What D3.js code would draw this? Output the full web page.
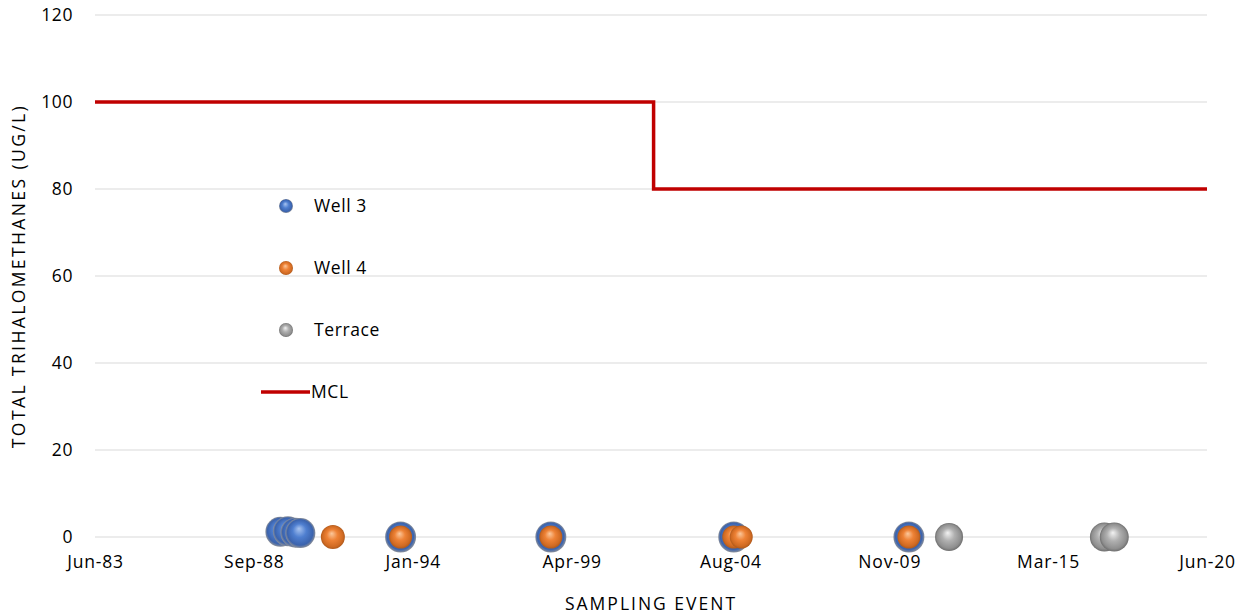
<!DOCTYPE html>
<html>
<head>
<meta charset="utf-8">
<script src="https://cdn.jsdelivr.net/npm/d3@7"></script>
<style>
html,body{margin:0;padding:0;background:#fff;}
svg{display:block;font-family:"Open Sans",sans-serif;}
</style>
</head>
<body>
<svg id="chart" width="1247" height="615"></svg>
<script>
// ---- data ----
const yTicks = [0, 20, 40, 60, 80, 100, 120];
const xTickLabels = ["Jun-83", "Sep-88", "Jan-94", "Apr-99", "Aug-04", "Nov-09", "Mar-15", "Jun-20"];

const well3Dates = ["1989-08-01", "1989-11-01", "1990-02-01", "1990-04-01", "1993-08-01", "1998-08-01", "2004-09-01", "2010-07-01"];
const well3Values = [1.2, 1.3, 1.0, 0.9, 0, 0, 0, 0];
const well3Sizes = [15, 15, 15, 15, 15.5, 15.5, 15.5, 15.5];

const well4Dates = ["1991-05-01", "1993-08-01", "1998-08-01", "2004-09-01", "2004-12-01", "2010-07-01"];
const well4Values = [0, 0, 0, 0, 0, 0];
const well4Sizes = [12, 11.5, 11.5, 11.5, 11.5, 11.5];

const terraceDates = ["2011-11-01", "2017-01-01", "2017-05-01"];
const terraceValues = [0, 0, 0];
const terraceSizes = [14, 14.5, 14.5];

const mclDates = ["1983-06-01", "2002-01-01", "2002-01-01", "2020-06-01"];
const mclValues = [100, 100, 80, 80];

// ---- layout ----
const svg = d3.select("#chart");
const pLeft = 95, pRight = 1207, pTop = 15, pBottom = 537;
const FONT = "'Open Sans', sans-serif";
const FS = 17.5;
const parse = d3.timeParse("%Y-%m-%d");
const x0 = parse("1983-06-01"), x1 = parse("2020-06-01");
const x = d3.scaleTime().domain([x0, x1]).range([pLeft, pRight]);
const y = d3.scaleLinear().domain([0, 120]).range([pBottom, pTop]);

const tickDates = xTickLabels.map((d, i) => new Date(+x0 + (x1 - x0) * i / (xTickLabels.length - 1)));

// gradients
const defs = svg.append("defs");
function grad(id, hi, mid, edge, rim) {
  const g = defs.append("radialGradient").attr("id", id)
    .attr("cx", "50%").attr("cy", "50%").attr("r", "50%")
    .attr("fx", "45%").attr("fy", "35%");
  g.append("stop").attr("offset", "0%").attr("stop-color", hi);
  g.append("stop").attr("offset", "45%").attr("stop-color", mid);
  g.append("stop").attr("offset", "85%").attr("stop-color", edge);
  g.append("stop").attr("offset", "100%").attr("stop-color", rim);
}
grad("gBlue", "#a9c4f0", "#4f7fd0", "#3b63ad", "#8a8f99");
grad("gOrange", "#fbc89c", "#ee8236", "#d06a22", "#b05a1c");
grad("gGrey", "#f2f2f2", "#b0b0b0", "#8f8f8f", "#6f6f6f");

// gridlines
svg.append("g").selectAll("line").data(yTicks).join("line")
  .attr("x1", pLeft).attr("x2", pRight)
  .attr("y1", d => y(d)).attr("y2", d => y(d))
  .attr("stroke", "#d9d9d9").attr("stroke-width", 1);

// y axis labels
const yAxis = d3.axisLeft(y).tickValues(yTicks).tickSize(0).tickPadding(0);
const gy = svg.append("g").attr("transform", `translate(${pLeft - 22},0)`).call(yAxis);
gy.select(".domain").remove();
gy.selectAll("text").attr("font-size", FS).attr("fill", "#000").attr("font-family", FONT)
  .attr("letter-spacing", 0.6);

// x axis labels
const xAxis = d3.axisBottom(x).tickValues(tickDates).tickFormat((d, i) => xTickLabels[i]).tickSize(0).tickPadding(0);
const gx = svg.append("g").attr("transform", `translate(0,${pBottom + 19})`).call(xAxis);
gx.select(".domain").remove();
gx.selectAll("text").attr("font-size", FS).attr("fill", "#000").attr("font-family", FONT)
  .attr("letter-spacing", 0.8);

// axis titles
svg.append("text").attr("x", (pLeft + pRight) / 2).attr("y", 610).attr("text-anchor", "middle")
  .attr("font-family", FONT).attr("font-size", FS).attr("letter-spacing", 2).text("SAMPLING EVENT");
svg.append("text").attr("transform", `translate(25,${(pTop + pBottom) / 2}) rotate(-90)`)
  .attr("text-anchor", "middle").attr("font-family", FONT).attr("font-size", FS)
  .attr("letter-spacing", 2.4).text("TOTAL TRIHALOMETHANES (UG/L)");

// MCL line
const line = d3.line().x(d => x(d.date)).y(d => y(d.v));
svg.append("path")
  .datum(mclDates.map((d, i) => ({ date: parse(d), v: mclValues[i] })))
  .attr("d", line).attr("fill", "none").attr("stroke", "#c00000").attr("stroke-width", 3.5);

// bubbles
function bubbles(dates, values, sizes, fill) {
  svg.append("g").selectAll("circle")
    .data(dates.map((d, i) => ({ date: parse(d), v: values[i], r: sizes[i] })))
    .join("circle")
    .attr("cx", d => x(d.date)).attr("cy", d => y(d.v)).attr("r", d => d.r)
    .attr("fill", fill);
}
bubbles(well3Dates, well3Values, well3Sizes, "url(#gBlue)");
bubbles(well4Dates, well4Values, well4Sizes, "url(#gOrange)");
bubbles(terraceDates, terraceValues, terraceSizes, "url(#gGrey)");

// legend
const legend = [
  { name: "Well 3", fill: "url(#gBlue)", type: "c", y: 206 },
  { name: "Well 4", fill: "url(#gOrange)", type: "c", y: 268 },
  { name: "Terrace", fill: "url(#gGrey)", type: "c", y: 330 },
  { name: "MCL", fill: "#c00000", type: "l", y: 392 }
];
const lg = svg.append("g");
legend.forEach(d => {
  if (d.type === "c") {
    lg.append("circle").attr("cx", 286).attr("cy", d.y).attr("r", 7).attr("fill", d.fill);
    lg.append("text").attr("x", 314).attr("y", d.y).attr("dy", "0.35em").attr("font-family", FONT)
      .attr("font-size", FS).attr("letter-spacing", 0.6).text(d.name);
  } else {
    lg.append("line").attr("x1", 261).attr("x2", 310).attr("y1", d.y).attr("y2", d.y)
      .attr("stroke", d.fill).attr("stroke-width", 3.5);
    lg.append("text").attr("x", 311).attr("y", d.y).attr("dy", "0.35em").attr("font-family", FONT)
      .attr("font-size", FS).attr("letter-spacing", 0.6).text(d.name);
  }
});
</script>
</body>
</html>
